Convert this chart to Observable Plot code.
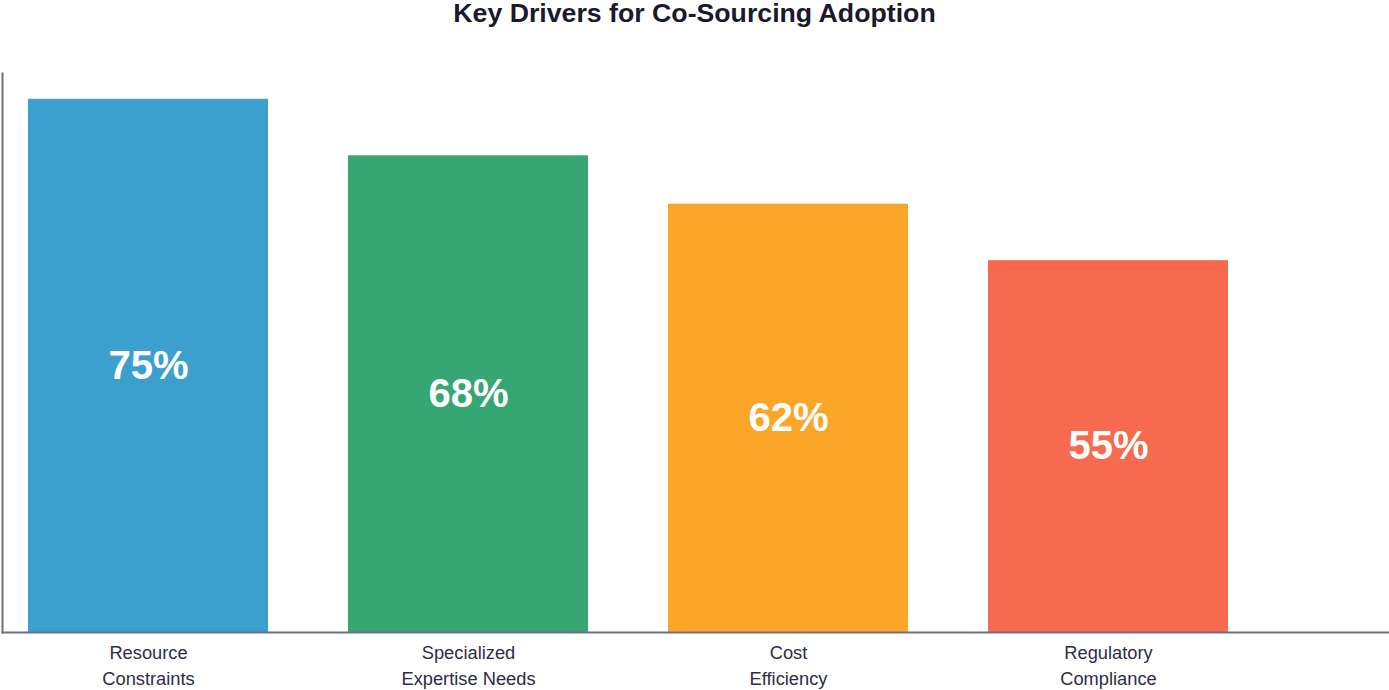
<!DOCTYPE html>
<html>
<head>
<meta charset="utf-8">
<script src="https://cdn.jsdelivr.net/npm/d3@7"></script>
<script src="https://cdn.jsdelivr.net/npm/@observablehq/plot@0.6"></script>
<style>
  html, body { margin: 0; padding: 0; background: #ffffff; }
  body { width: 1389px; height: 690px; overflow: hidden; font-family: "Liberation Sans", Arial, sans-serif; }
  #title { height: 30px; line-height: 26px; text-align: center; font-size: 26.7px; font-weight: bold; color: #1a1a2e; overflow: visible; }
  #chart svg { display: block; }
</style>
</head>
<body>
<div id="title">Key Drivers for Co-Sourcing Adoption</div>
<div id="chart"></div>
<script>
const categories = ["Resource Constraints", "Specialized Expertise Needs", "Cost Efficiency", "Regulatory Compliance"];
const tickLabels = ["Resource\nConstraints", "Specialized\nExpertise Needs", "Cost\nEfficiency", "Regulatory\nCompliance"];
const values = [75, 68, 62, 55];
const colors = ["#3ba0ce", "#36a673", "#fba628", "#f66b50"];
const yDomain = [8.9, 78.2];

const data = categories.map((c, i) => ({cat: c, value: values[i], color: colors[i], tick: tickLabels[i]}));
const base = yDomain[0];

const chart = Plot.plot({
  width: 1389,
  height: 660,
  marginLeft: 2,
  marginRight: 0,
  marginTop: 43,
  marginBottom: 58,
  style: {fontFamily: "'Liberation Sans', Arial, sans-serif", background: "#ffffff"},
  x: {domain: categories, paddingInner: 0.25, paddingOuter: 0.292, align: 0.139, axis: null},
  y: {domain: yDomain, axis: null},
  marks: [
    Plot.barY(data, {x: "cat", y1: base, y2: "value", fill: "color"}),
    Plot.text(data, {
      x: "cat",
      y: d => (d.value + base) / 2,
      text: d => d.value + "%",
      fill: "#ffffff",
      fontSize: 40,
      fontWeight: "bold"
    }),
    Plot.axisX({
      label: null,
      tickSize: 0,
      tickPadding: 8,
      fontSize: 18.3,
      lineHeight: 1.43,
      fill: "#2d2d44",
      tickFormat: (d) => tickLabels[categories.indexOf(d)]
    }),
    Plot.frame({anchor: "left", stroke: "#6e6e88", strokeWidth: 2}),
    Plot.frame({anchor: "bottom", stroke: "#6e6e88", strokeWidth: 2})
  ]
});
document.getElementById("chart").appendChild(chart);
</script>
</body>
</html>
